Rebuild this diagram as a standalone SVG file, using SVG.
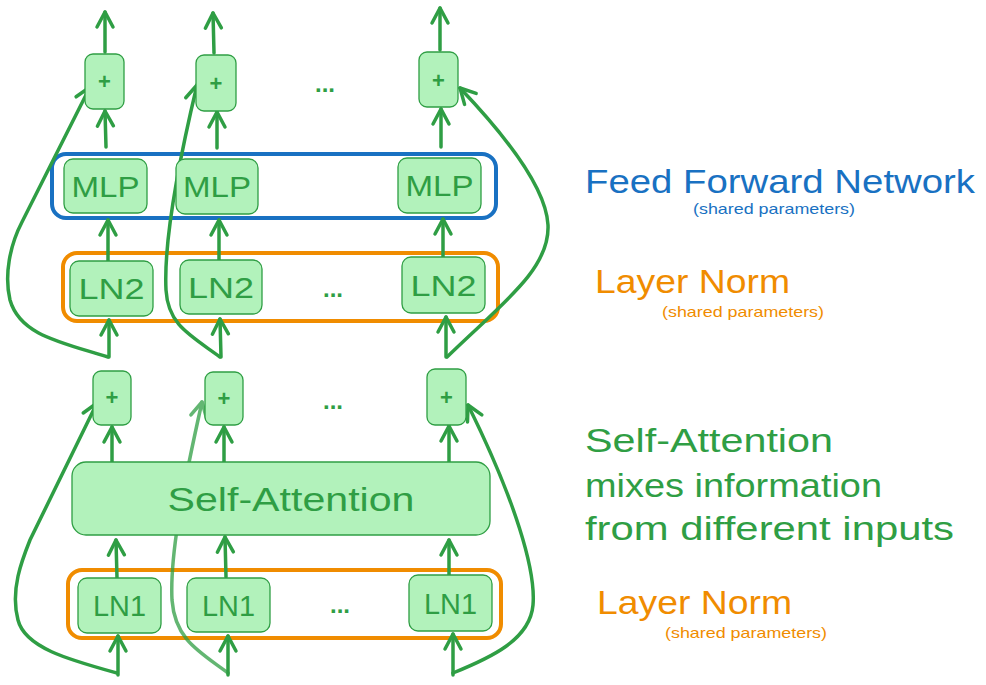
<svg xmlns="http://www.w3.org/2000/svg" width="986" height="685" viewBox="0 0 986 685">
<defs>
<style>
.node{fill:#b2f2bb;stroke:#2f9e44;stroke-width:1.3}
.lbl{font-family:"Liberation Sans",Arial,sans-serif;fill:#2f9e44;text-anchor:middle;dominant-baseline:central}
.plus{font-size:22px;font-weight:bold}
.big{font-size:30px}
.dots{font-family:"Liberation Sans",Arial,sans-serif;fill:#2f9e44;font-size:24px;font-weight:bold;text-anchor:middle}
.grp{fill:none;stroke-width:4}
.edge{fill:none;stroke:#2f9e44;stroke-width:3.5;stroke-linecap:round;marker-end:url(#ah)}
.side{font-family:"Liberation Sans",Arial,sans-serif;font-size:33px}
.small{font-family:"Liberation Sans",Arial,sans-serif;font-size:15px}
</style>
<marker id="ah" markerUnits="userSpaceOnUse" markerWidth="24" markerHeight="24" viewBox="-4 -12 24 24" refX="15" refY="0" orient="auto" overflow="visible">
<path d="M0,-8 L15,0 L0,8" fill="none" stroke="#2f9e44" stroke-width="3.5" stroke-linecap="round" stroke-linejoin="round"/>
</marker>
</defs>

<g id="group-ffn"><rect class="grp" x="52" y="154" width="444" height="64" rx="14" stroke="#1971c2"/></g>
<g id="group-ln2"><rect class="grp" x="63" y="253" width="435" height="68" rx="14" stroke="#f08c00"/></g>
<g id="group-ln1"><rect class="grp" x="68" y="570" width="433" height="68" rx="14" stroke="#f08c00"/></g>

<g id="connectors">
<line class="edge" x1="105" y1="52" x2="105" y2="12"/>
<line class="edge" x1="214" y1="53" x2="213" y2="13"/>
<line class="edge" x1="440" y1="50" x2="440" y2="8"/>
<line class="edge" x1="106" y1="147" x2="105" y2="111"/>
<line class="edge" x1="217" y1="148" x2="217" y2="112"/>
<line class="edge" x1="441" y1="147" x2="441" y2="109"/>
<line class="edge" x1="108" y1="262" x2="108" y2="220"/>
<line class="edge" x1="219" y1="261" x2="219" y2="220"/>
<line class="edge" x1="443" y1="258" x2="443" y2="219"/>
<line class="edge" x1="109" y1="357" x2="109" y2="320"/>
<line class="edge" x1="221" y1="357" x2="220" y2="319"/>
<line class="edge" x1="446" y1="357" x2="446" y2="317"/>
<line class="edge" x1="112" y1="462" x2="112" y2="427"/>
<line class="edge" x1="224" y1="462" x2="224" y2="427"/>
<line class="edge" x1="449" y1="462" x2="449" y2="426"/>
<line class="edge" x1="117" y1="578" x2="116" y2="540"/>
<line class="edge" x1="226" y1="577" x2="225" y2="537"/>
<line class="edge" x1="449" y1="575" x2="449" y2="540"/>
<line class="edge" x1="118" y1="675" x2="118" y2="636"/>
<line class="edge" x1="228" y1="675" x2="228" y2="636"/>
<line class="edge" x1="453" y1="675" x2="453" y2="634"/>
<path class="edge" d="M108,357 C60,342 20,335 10,300 C4,275 10,245 22,222 L90,87"/>
<path class="edge" d="M220,357 C190,335 168,325 166,290 C164,250 172,190 197,85"/>
<path class="edge" d="M447,357 C500,305 550,270 548,225 C546,185 500,130 460,88"/>
<path class="edge" d="M117,673 C70,660 25,648 18,620 C10,590 22,560 30,540 L97,403"/>
<path class="edge" opacity="0.75" d="M228,673 C200,652 175,640 172,600 C170,560 180,500 202,402"/>
<path class="edge" d="M453,673 C490,658 530,640 533,605 C536,570 515,500 468,405"/>
</g>

<g id="add-top-1"><rect class="node" x="85" y="54" width="39" height="55" rx="8"/><text class="lbl plus" x="104.5" y="81">+</text></g>
<g id="add-top-2"><rect class="node" x="196" y="55" width="40" height="56" rx="8"/><text class="lbl plus" x="216" y="83">+</text></g>
<g id="add-top-n"><rect class="node" x="419" y="52" width="39" height="55" rx="8"/><text class="lbl plus" x="438.5" y="80">+</text></g>
<text class="dots" x="325" y="92">...</text>

<g id="mlp-1"><rect class="node" x="64" y="159" width="83" height="54" rx="9"/><text class="lbl big" x="105.5" y="186" textLength="68" lengthAdjust="spacingAndGlyphs">MLP</text></g>
<g id="mlp-2"><rect class="node" x="176" y="159" width="82" height="55" rx="9"/><text class="lbl big" x="217" y="186" textLength="68" lengthAdjust="spacingAndGlyphs">MLP</text></g>
<g id="mlp-n"><rect class="node" x="398" y="158" width="83" height="55" rx="9"/><text class="lbl big" x="439.5" y="185" textLength="68" lengthAdjust="spacingAndGlyphs">MLP</text></g>

<g id="ln2-1"><rect class="node" x="70" y="261" width="83" height="55" rx="9"/><text class="lbl big" x="111.5" y="288" textLength="66" lengthAdjust="spacingAndGlyphs">LN2</text></g>
<g id="ln2-2"><rect class="node" x="180" y="260" width="82" height="54" rx="9"/><text class="lbl big" x="221" y="287" textLength="66" lengthAdjust="spacingAndGlyphs">LN2</text></g>
<g id="ln2-n"><rect class="node" x="402" y="257" width="83" height="56" rx="9"/><text class="lbl big" x="443.5" y="285" textLength="66" lengthAdjust="spacingAndGlyphs">LN2</text></g>
<text class="dots" x="333" y="297">...</text>

<g id="add-mid-1"><rect class="node" x="93" y="371" width="38" height="54" rx="8"/><text class="lbl plus" x="112" y="397">+</text></g>
<g id="add-mid-2"><rect class="node" x="205" y="372" width="38" height="53" rx="8"/><text class="lbl plus" x="224" y="398">+</text></g>
<g id="add-mid-n"><rect class="node" x="427" y="369" width="39" height="56" rx="8"/><text class="lbl plus" x="446.5" y="397">+</text></g>
<text class="dots" x="333" y="409">...</text>

<g id="self-attention"><rect class="node" x="72" y="462" width="418" height="73" rx="14"/><text class="lbl" x="291" y="499" font-size="34" textLength="247" lengthAdjust="spacingAndGlyphs">Self-Attention</text></g>

<g id="ln1-1"><rect class="node" x="78" y="578" width="83" height="55" rx="9"/><text class="lbl big" x="119.5" y="605" textLength="53" lengthAdjust="spacingAndGlyphs">LN1</text></g>
<g id="ln1-2"><rect class="node" x="187" y="578" width="83" height="54" rx="9"/><text class="lbl big" x="228.5" y="605" textLength="53" lengthAdjust="spacingAndGlyphs">LN1</text></g>
<g id="ln1-n"><rect class="node" x="409" y="575" width="83" height="56" rx="9"/><text class="lbl big" x="450.5" y="603" textLength="53" lengthAdjust="spacingAndGlyphs">LN1</text></g>
<text class="dots" x="340" y="613">...</text>

<g id="notes">
<text class="side" x="585" y="193" fill="#1971c2" textLength="390" lengthAdjust="spacingAndGlyphs">Feed Forward Network</text>
<text class="small" x="693" y="214" fill="#1971c2" textLength="162" lengthAdjust="spacingAndGlyphs">(shared parameters)</text>
<text class="side" x="595" y="293" fill="#f08c00" textLength="195" lengthAdjust="spacingAndGlyphs">Layer Norm</text>
<text class="small" x="662" y="317" fill="#f08c00" textLength="162" lengthAdjust="spacingAndGlyphs">(shared parameters)</text>
<text class="side" x="585" y="452" fill="#2f9e44" textLength="248" lengthAdjust="spacingAndGlyphs">Self-Attention</text>
<text class="side" x="585" y="497" fill="#2f9e44" textLength="297" lengthAdjust="spacingAndGlyphs">mixes information</text>
<text class="side" x="585" y="540" fill="#2f9e44" textLength="369" lengthAdjust="spacingAndGlyphs">from different inputs</text>
<text class="side" x="597" y="614" fill="#f08c00" textLength="195" lengthAdjust="spacingAndGlyphs">Layer Norm</text>
<text class="small" x="665" y="638" fill="#f08c00" textLength="162" lengthAdjust="spacingAndGlyphs">(shared parameters)</text>
</g>
</svg>
